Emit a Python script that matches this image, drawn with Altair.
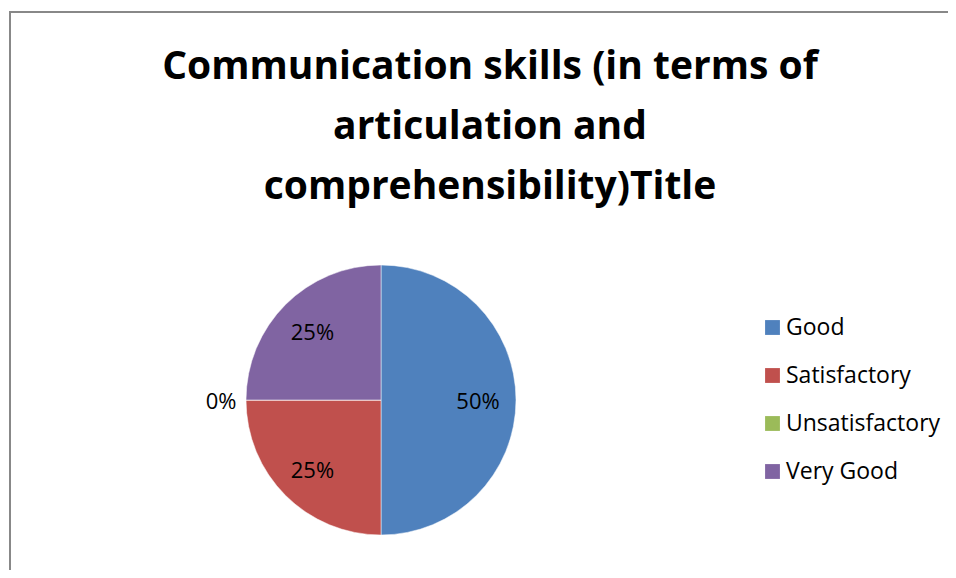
import altair as alt
import pandas as pd

categories = ["Good", "Satisfactory", "Unsatisfactory", "Very Good"]
values = [50, 25, 0, 25]
labels = ["50%", "25%", "0%", "25%"]
colors = ["#4F81BD", "#C0504D", "#9BBB59", "#8064A2"]
title_lines = ["Communication skills (in terms of", "articulation and", "comprehensibility)Title"]

df = pd.DataFrame({"category": categories, "value": values, "label": labels})

cx, cy = 373, 392
TOTAL = sum(values)

arcs = alt.Chart(df).mark_arc(radius=135, stroke="#ffffff", strokeWidth=0.5).encode(
    theta=alt.Theta("value:Q", stack=True, scale=alt.Scale(domain=[0, TOTAL])),
    color=alt.Color(
        "category:N",
        scale=alt.Scale(domain=categories, range=colors),
        sort=categories,
        legend=alt.Legend(
            title=None, orient="none", legendX=753, legendY=308, padding=0,
            symbolType="square", symbolSize=220, symbolStrokeWidth=0,
            labelFont="Open Sans", labelFontSize=23, labelColor="#000000",
            rowPadding=24, labelOffset=2,
        ),
    ),
    x=alt.value(cx), y=alt.value(cy),
)

text_base = alt.Chart(df).transform_window(
    cum="sum(value)", frame=[None, 0]
).transform_calculate(
    mid="datum.cum - datum.value / 2"
)

inner = text_base.transform_filter("datum.value > 0").mark_text(
    radius=97, font="Open Sans", fontSize=22, color="#000000", dy=2
).encode(
    theta=alt.Theta("mid:Q", scale=alt.Scale(domain=[0, TOTAL])),
    text="label:N",
    x=alt.value(cx), y=alt.value(cy),
)
outer = text_base.transform_filter("datum.value == 0").mark_text(
    radius=160, font="Open Sans", fontSize=22, color="#000000", dy=2
).encode(
    theta=alt.Theta("mid:Q", scale=alt.Scale(domain=[0, TOTAL])),
    text="label:N",
    x=alt.value(cx), y=alt.value(cy),
)

border_left = alt.Chart(df).mark_rule(color="#888888", strokeWidth=2).encode(
    x=alt.value(2), y=alt.value(4), y2=alt.value(562)
)
border_top = alt.Chart(df).mark_rule(color="#888888", strokeWidth=2).encode(
    x=alt.value(1), x2=alt.value(940), y=alt.value(4)
)

chart = alt.layer(
    arcs, inner, outer, border_left, border_top,
).properties(
    width=940, height=562,
    padding=0,
    autosize=alt.AutoSizeParams(type="none"),
    title=alt.TitleParams(
        title_lines, font="Open Sans", fontSize=39, fontWeight="bold", color="#000000",
        lineHeight=60, anchor="middle", dx=12, offset=-199, frame="group",
    ),
).configure_view(stroke=None)

chart.save("out.html", embed_options={"renderer": "svg", "actions": False})
